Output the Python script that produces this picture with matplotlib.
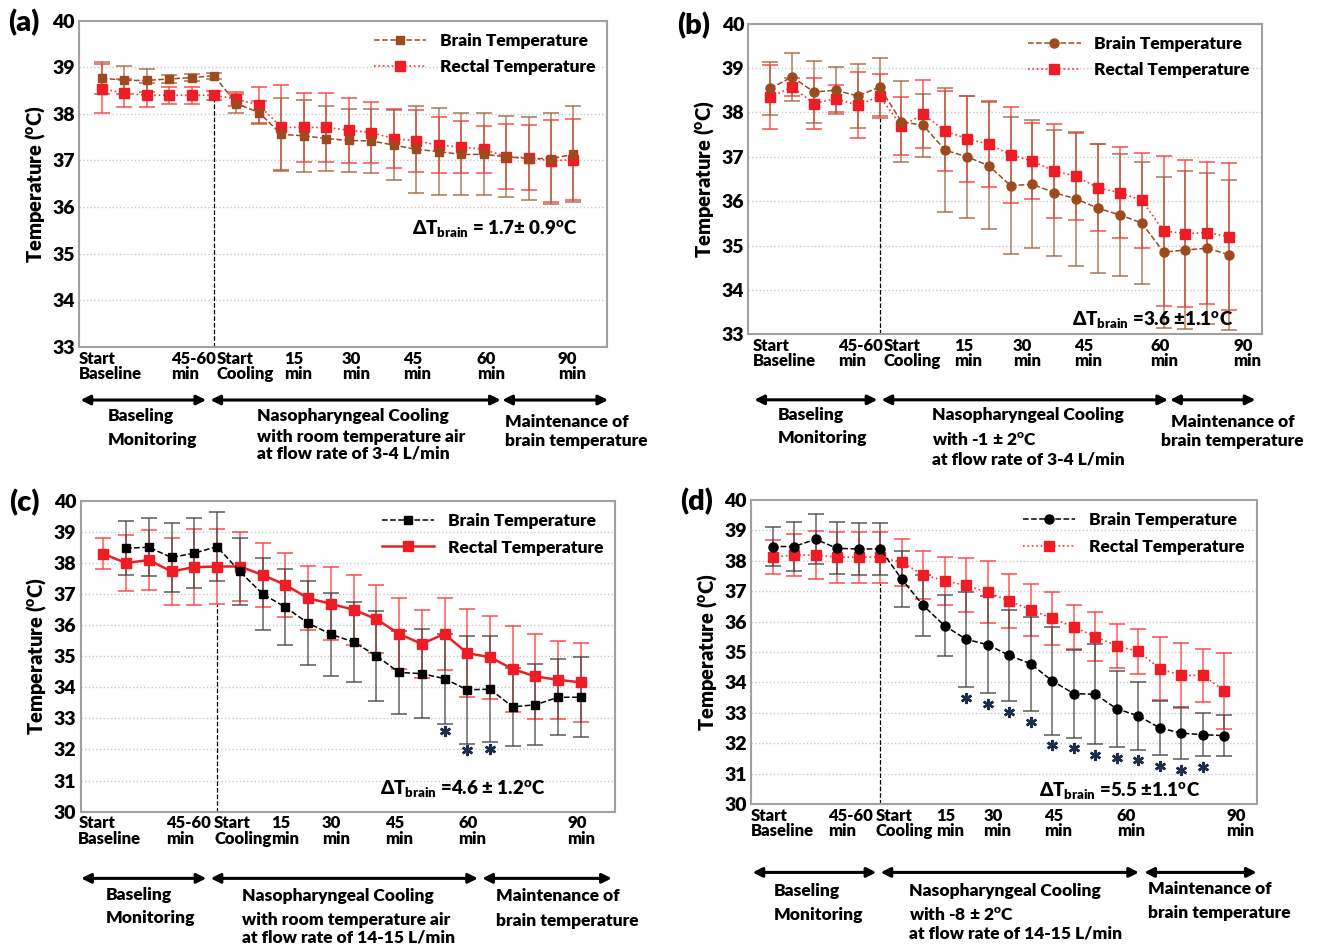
import numpy as np
import matplotlib
matplotlib.use("Agg")
import matplotlib.pyplot as plt

plt.rcParams['font.family'] = ['Lato', 'DejaVu Sans']
plt.rcParams['font.weight'] = 'heavy'
plt.rcParams['mathtext.fontset'] = 'custom'
plt.rcParams['mathtext.rm'] = 'Lato:heavy'
plt.rcParams['mathtext.bf'] = 'Lato:heavy'
plt.rcParams['mathtext.it'] = 'Lato:heavy'

W = "heavy"
nan = np.nan

# panel (a)
brain_a = [38.77, 38.72, 38.72, 38.75, 38.78, 38.82, 38.22, 38.03, 37.56, 37.53, 37.47,
           37.43, 37.42, 37.33, 37.24, 37.19, 37.13, 37.13, 37.08, 37.04, 37.04, 37.13]
brain_a_err = [0.35, 0.30, 0.25, 0.08, 0.08, 0.06, 0.20, 0.25, 0.78, 0.77, 0.70,
               0.68, 0.68, 0.75, 0.94, 0.93, 0.88, 0.88, 0.87, 0.90, 0.97, 1.03]
rectal_a = [38.54, 38.45, 38.40, 38.40, 38.40, 38.40, 38.32, 38.19, 37.71, 37.71, 37.71,
            37.65, 37.60, 37.47, 37.42, 37.33, 37.29, 37.24, 37.08, 37.06, 36.99, 37.02]
rectal_a_err = [0.53, 0.30, 0.26, 0.18, 0.18, 0.10, 0.15, 0.38, 0.91, 0.74, 0.74,
                0.70, 0.65, 0.63, 0.66, 0.60, 0.56, 0.50, 0.70, 0.70, 0.88, 0.88]

# panel (b)
brain_b = [38.54, 38.80, 38.46, 38.50, 38.37, 38.57, 37.79, 37.71, 37.15, 37.00, 36.80,
           36.35, 36.38, 36.19, 36.05, 35.84, 35.69, 35.51, 34.85, 34.90, 34.94, 34.79]
brain_b_err = [0.60, 0.54, 0.70, 0.53, 0.73, 0.66, 0.91, 0.71, 1.39, 1.37, 1.43,
               1.55, 1.44, 1.42, 1.50, 1.45, 1.38, 1.37, 1.70, 1.78, 1.70, 1.69]
rectal_b = [38.35, 38.57, 38.20, 38.31, 38.16, 38.37, 37.69, 37.96, 37.58, 37.41, 37.28,
            37.05, 36.90, 36.68, 36.56, 36.30, 36.19, 36.02, 35.33, 35.27, 35.29, 35.20]
rectal_b_err = [0.72, 0.20, 0.58, 0.30, 0.74, 0.50, 0.65, 0.77, 0.91, 0.97, 0.97,
                1.08, 0.86, 1.07, 0.98, 0.98, 1.02, 1.07, 1.69, 1.65, 1.60, 1.65]

# panel (c)
brain_c = [nan, 38.48, 38.51, 38.18, 38.32, 38.53, 37.73, 37.01, 36.58, 36.07, 35.71,
           35.46, 35.02, 34.48, 34.44, 34.28, 33.92, 33.94, 33.37, 33.44, 33.68, 33.68]
brain_c_err = [nan, 0.87, 0.94, 1.10, 1.13, 1.12, 1.07, 1.15, 1.22, 1.35, 1.33,
               1.30, 1.45, 1.34, 1.43, 1.45, 1.73, 1.70, 1.25, 1.30, 1.23, 1.29]
rectal_c = [38.30, 38.00, 38.10, 37.73, 37.87, 37.89, 37.89, 37.62, 37.30, 36.87, 36.69,
            36.50, 36.20, 35.72, 35.40, 35.72, 35.10, 34.97, 34.59, 34.35, 34.24, 34.16]
rectal_c_err = [0.50, 0.90, 0.97, 1.07, 1.22, 1.20, 1.10, 1.03, 1.03, 1.03, 1.18,
                1.13, 1.10, 1.14, 1.10, 1.16, 1.42, 1.34, 1.37, 1.38, 1.25, 1.27]
stars_c = [15, 16, 17]

# panel (d)
brain_d = [38.47, 38.47, 38.71, 38.41, 38.39, 38.39, 37.40, 36.53, 35.86, 35.42, 35.24,
           34.89, 34.61, 34.05, 33.63, 33.61, 33.13, 32.90, 32.50, 32.33, 32.28, 32.25]
brain_d_err = [0.65, 0.81, 0.83, 0.86, 0.85, 0.85, 0.91, 1.00, 1.00, 1.57, 1.60,
               1.50, 1.55, 1.77, 1.45, 1.65, 1.26, 1.11, 0.90, 0.86, 0.70, 0.67]
rectal_d = [38.12, 38.19, 38.19, 38.12, 38.12, 38.12, 37.95, 37.54, 37.34, 37.19, 36.96,
            36.68, 36.39, 36.11, 35.82, 35.51, 35.20, 35.02, 34.45, 34.23, 34.23, 33.73]
rectal_d_err = [0.56, 0.70, 0.78, 0.84, 0.84, 0.84, 0.77, 0.78, 0.80, 0.89, 1.02,
                0.90, 0.85, 0.87, 0.72, 0.82, 0.71, 0.73, 1.04, 1.08, 0.86, 1.25]
stars_d = [9, 10, 11, 12, 13, 14, 15, 16, 17, 18, 19, 20]

tick_labels = ["Start\nBaseline", "45-60\nmin", "Start\nCooling", "15\nmin",
               "30\nmin", "45\nmin", "60\nmin", "90\nmin"]


def draw_panel(rect, letter, brain, brain_err, rectal, rectal_err, ylo,
               brain_color, brain_marker, rectal_style, tick_pos, delta_text, delta_xy,
               arrows, arrow_y, texts, stars=None, star_gap=0.3):
    ax = fig.add_axes(rect)
    x = np.arange(len(brain))
    brain = np.array(brain)
    brain_err = np.array(brain_err)
    rectal = np.array(rectal)
    rectal_err = np.array(rectal_err)

    for yv in range(ylo + 1, 40):
        ax.axhline(yv, color="#c8c8c8", lw=1.0, ls=":", zorder=0)

    err_col_b = "#a0643c" if brain_color != "black" else "#444444"
    ax.errorbar(x, rectal, yerr=rectal_err, fmt="none", ecolor="#ff4040",
                elinewidth=1.2, capsize=5.5, capthick=1.3, alpha=0.8, zorder=2)
    ax.errorbar(x, brain, yerr=brain_err, fmt="none", ecolor=err_col_b,
                elinewidth=1.2, capsize=5.5, capthick=1.3, alpha=0.75, zorder=2)

    if rectal_style == "-":
        ax.plot(x, rectal, color="#ee1c24", ls="-", lw=1.8, marker="s", ms=7,
                label="Rectal Temperature", zorder=4)
    else:
        ax.plot(x, rectal, color="#ff3030", ls=":", lw=1.2, marker="s", ms=7,
                mfc="#ee1c24", mec="#ee1c24", label="Rectal Temperature", zorder=4)
    ms = 6 if brain_marker == "s" else 6.5
    ax.plot(x, brain, color=brain_color, ls="--", lw=1.1, marker=brain_marker, ms=ms,
            label="Brain Temperature", zorder=5)

    # start of cooling marker
    top = min(brain[5] - brain_err[5], rectal[5] - rectal_err[5])
    ax.plot([5, 5], [ylo, top], color="black", ls="--", lw=0.9, zorder=1)

    # significance asterisks below the brain error bars
    if stars is not None:
        si = np.array(stars)
        ax.plot(si, brain[si] - brain_err[si] - star_gap, ls="none", marker=(6, 2, 0),
                ms=8, mew=1.8, color="#1f2d4d", zorder=6)

    ax.set_xlim(-1, 22.5)
    ax.set_ylim(ylo, 40)
    ax.set_yticks(range(ylo, 41))
    ax.tick_params(axis="y", labelsize=14, length=0, pad=3)
    ax.set_xticks([])
    for lab in ax.get_yticklabels():
        lab.set_fontweight(W)
    for sp in ax.spines.values():
        sp.set_color("#a0a0a0")
        sp.set_linewidth(1.5)
    ax.set_ylabel("Temperature ($^{\\mathrm{o}}$C)", fontsize=14.5, fontweight=W, labelpad=4)

    for lab, xp in zip(tick_labels, tick_pos):
        ax.text(xp, -0.012, lab, transform=ax.get_xaxis_transform(), ha="left", va="top",
                fontsize=12, fontweight=W, linespacing=0.95)

    h, l = ax.get_legend_handles_labels()
    ax.legend(h[::-1], l[::-1], loc="upper right", frameon=False, fontsize=12.5,
              handlelength=3.0, borderaxespad=0.3, labelspacing=0.6)

    ax.text(delta_xy[0], delta_xy[1], delta_text, transform=ax.transAxes,
            fontsize=13.5, fontweight=W, ha="left", va="bottom")

    tr = ax.get_xaxis_transform()
    for (x0, x1) in arrows:
        ax.annotate("", xy=(x1, arrow_y), xytext=(x0, arrow_y), xycoords=tr, textcoords=tr,
                    arrowprops=dict(arrowstyle="<|-|>", color="black", lw=2.2,
                                    mutation_scale=14, shrinkA=0, shrinkB=0),
                    annotation_clip=False)
    for (xp, yp, s) in texts:
        ax.text(xp, yp, s, transform=tr, ha="left", va="center", fontsize=12.5,
                fontweight=W, clip_on=False)

    fig.text(rect[0] - 0.054, rect[1] + rect[3] - 0.002, "(" + letter + ")", fontsize=21,
             fontweight=W, ha="left", va="center")
    return ax


fig = plt.figure(figsize=(13.2, 9.47), dpi=100)

draw_panel([0.060, 0.634, 0.400, 0.344], "a", brain_a, brain_a_err, rectal_a, rectal_a_err, 33,
           "#9c4a1e", "s", ":", [-1.0, 3.1, 5.1, 8.1, 10.7, 13.4, 16.7, 20.3],
           "ΔT$_{\\mathrm{brain}}$ = 1.7± 0.9$^{\\mathrm{o}}$C", (0.63, 0.33),
           [(-0.94, 4.65), (4.84, 17.76), (17.83, 22.54)], -0.164,
           [(0.28, -0.213, "Baseling"), (0.28, -0.286, "Monitoring"),
            (6.93, -0.213, "Nasopharyngeal Cooling"),
            (6.93, -0.276, "with room temperature air"),
            (6.93, -0.329, "at flow rate of 3-4 L/min"),
            (17.95, -0.23, "Maintenance of"), (17.95, -0.29, "brain temperature")])

draw_panel([0.567, 0.647, 0.389, 0.328], "b", brain_b, brain_b_err, rectal_b, rectal_b_err, 33,
           "#9c4a1e", "o", ":", [-0.8, 3.1, 5.2, 8.4, 11.1, 13.9, 17.4, 21.2],
           "ΔT$_{\\mathrm{brain}}$ =3.6 ±1.1$^{\\mathrm{o}}$C", (0.63, 0.015),
           [(-0.73, 4.9), (5.09, 18.2), (18.3, 22.2)], -0.211,
           [(0.33, -0.259, "Baseling"), (0.33, -0.334, "Monitoring"),
            (7.4, -0.259, "Nasopharyngeal Cooling"),
            (7.4, -0.340, "with -1 ± 2$^{\\mathrm{o}}$C"),
            (7.4, -0.402, "at flow rate of 3-4 L/min"),
            (18.36, -0.281, "Maintenance of"), (17.9, -0.345, "brain temperature")])

draw_panel([0.061, 0.143, 0.405, 0.328], "c", brain_c, brain_c_err, rectal_c, rectal_c_err, 30,
           "black", "s", "-", [-1.1, 2.76, 4.87, 7.4, 9.6, 12.4, 15.6, 20.4],
           "ΔT$_{\\mathrm{brain}}$ =4.6 ± 1.2$^{\\mathrm{o}}$C", (0.56, 0.04),
           [(-0.97, 4.53), (4.72, 16.47), (16.66, 22.35)], -0.215,
           [(0.1, -0.269, "Baseling"), (0.1, -0.344, "Monitoring"),
            (6.08, -0.271, "Nasopharyngeal Cooling"),
            (6.08, -0.348, "with room temperature air"),
            (6.08, -0.405, "at flow rate of 14-15 L/min"),
            (17.28, -0.273, "Maintenance of"), (17.28, -0.351, "brain temperature")],
           stars=stars_c, star_gap=0.22)

draw_panel([0.569, 0.151, 0.383, 0.321], "d", brain_d, brain_d_err, rectal_d, rectal_d_err, 30,
           "black", "o", ":", [-1.0, 2.6, 4.8, 7.6, 9.8, 12.6, 16.0, 21.1],
           "ΔT$_{\\mathrm{brain}}$ =5.5 ±1.1$^{\\mathrm{o}}$C", (0.57, 0.01),
           [(-0.93, 4.82), (5.02, 17.03), (17.28, 22.5)], -0.225,
           [(0.06, -0.287, "Baseling"), (0.06, -0.364, "Monitoring"),
            (6.36, -0.287, "Nasopharyngeal Cooling"),
            (6.36, -0.364, "with -8 ± 2$^{\\mathrm{o}}$C"),
            (6.36, -0.427, "at flow rate of 14-15 L/min"),
            (17.46, -0.280, "Maintenance of"), (17.46, -0.358, "brain temperature")],
           stars=stars_d, star_gap=0.35)

fig.savefig("out.png", dpi=100, facecolor="white")
